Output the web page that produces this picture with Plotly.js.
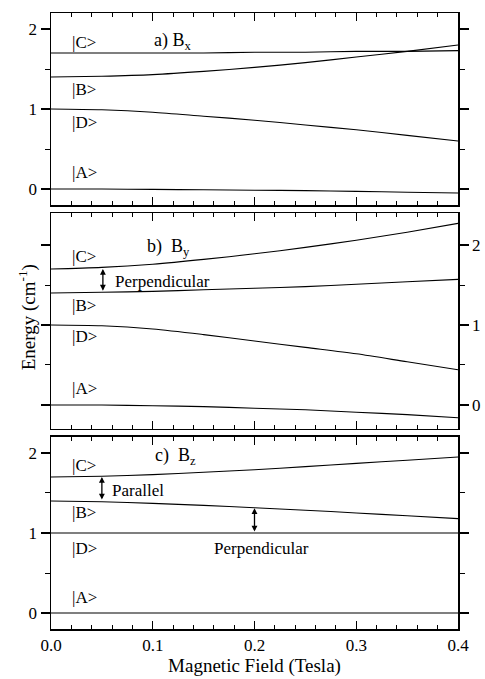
<!DOCTYPE html>
<html>
<head>
<meta charset="utf-8">
<script src="https://cdn.plot.ly/plotly-3.0.1.min.js"></script>
<style>html,body{margin:0;padding:0;background:#fff;}#chart{width:485px;height:679px;}</style>
</head>
<body>
<div id="chart"></div>
<script>
// Magnetic field (Tesla)
const field = [0, 0.05, 0.1, 0.15, 0.2, 0.25, 0.3, 0.35, 0.4];

// Panel a) Bx
const bxA = [0, 0, -0.005, -0.01, -0.015, -0.02, -0.03, -0.04, -0.05];
const bxB = [1.40, 1.41, 1.43, 1.47, 1.52, 1.58, 1.65, 1.72, 1.80];
const bxC = [1.70, 1.70, 1.70, 1.70, 1.71, 1.71, 1.72, 1.72, 1.73];
const bxD = [1.00, 0.99, 0.96, 0.91, 0.86, 0.80, 0.74, 0.67, 0.60];

// Panel b) By
const byA = [0, 0, -0.01, -0.02, -0.04, -0.06, -0.09, -0.12, -0.16];
const byB = [1.40, 1.41, 1.42, 1.44, 1.46, 1.48, 1.51, 1.54, 1.57];
const byC = [1.70, 1.72, 1.76, 1.82, 1.89, 1.97, 2.06, 2.16, 2.27];
const byD = [1.00, 0.99, 0.95, 0.88, 0.80, 0.72, 0.64, 0.54, 0.44];

// Panel c) Bz
const bzA = [0, 0, 0, 0, 0, 0, 0, 0, 0];
const bzB = [1.40, 1.39, 1.37, 1.345, 1.315, 1.285, 1.25, 1.215, 1.18];
const bzC = [1.70, 1.71, 1.73, 1.76, 1.79, 1.83, 1.87, 1.91, 1.95];
const bzD = [1.00, 1.00, 1.00, 1.00, 1.00, 1.00, 1.00, 1.00, 1.00];

const stateLabels = ['|C>', '|B>', '|D>', '|A>'];
const panelTitles = ['a) B<sub>x</sub>', 'b)  B<sub>y</sub>', 'c)  B<sub>z</sub>'];
const xTickVals = [0, 0.1, 0.2, 0.3, 0.4];
const xTickText = ['0.0', '0.1', '0.2', '0.3', '0.4'];

const FONT = 'Liberation Serif';
const lineStyle = {color: '#000', width: 1.1, shape: 'spline', smoothing: 0.8};

const panels = [
  {xa: 'x', ya: 'y', series: [bxA, bxB, bxC, bxD]},
  {xa: 'x2', ya: 'y2', series: [byA, byB, byC, byD]},
  {xa: 'x3', ya: 'y3', series: [bzA, bzB, bzC, bzD]}
];

const traces = [];
panels.forEach(p => {
  p.series.forEach(s => {
    traces.push({x: field, y: s, xaxis: p.xa, yaxis: p.ya, type: 'scatter', mode: 'lines',
      line: lineStyle, showlegend: false, hoverinfo: 'skip'});
  });
});

function xAxis(anchor, showLabels) {
  return {
    anchor: anchor, range: [0, 0.4], showgrid: false, zeroline: false,
    showline: true, linecolor: '#000', linewidth: 1.5, mirror: 'allticks',
    ticks: 'inside', ticklen: 8, tickwidth: 1.2, tickcolor: '#000',
    tickvals: xTickVals, ticktext: xTickText, showticklabels: showLabels,
    minor: {ticks: 'inside', dtick: 0.02, tick0: 0, ticklen: 4, tickwidth: 1, tickcolor: '#000'},
    tickfont: {family: FONT, size: 17, color: '#000'}
  };
}
function yAxis(anchor, domain, range, side) {
  return {
    anchor: anchor, domain: domain, range: range, side: side,
    showgrid: false, zeroline: false,
    showline: true, linecolor: '#000', linewidth: 1.5, mirror: 'allticks',
    ticks: 'outside', ticklen: 9, tickwidth: 1.2, tickcolor: '#000',
    tickmode: 'linear', tick0: 0, dtick: 1,
    minor: {ticks: 'outside', dtick: 0.5, tick0: 0, ticklen: 5, tickwidth: 1, tickcolor: '#000'},
    tickfont: {family: FONT, size: 17, color: '#000'}
  };
}

const layout = {
  width: 485, height: 679,
  margin: {l: 51, r: 27, t: 13, b: 50},
  paper_bgcolor: '#fff', plot_bgcolor: '#fff',
  showlegend: false,
  font: {family: FONT, color: '#000', size: 17},
  xaxis: xAxis('y', false),
  xaxis2: xAxis('y2', false),
  xaxis3: Object.assign(xAxis('y3', true), {
    title: {text: 'Magnetic Field (Tesla)', font: {family: FONT, size: 19, color: '#000'}, standoff: 4}
  }),
  yaxis: yAxis('x', [0.6883, 1], [-0.2, 2.2], 'left'),
  yaxis2: yAxis('x2', [0.3247, 0.6753], [-0.3, 2.4], 'right'),
  yaxis3: yAxis('x3', [0, 0.3117], [-0.2, 2.2], 'left'),
  annotations: []
};

const ann = layout.annotations;
function txt(xr, yr, x, y, text, opts) {
  ann.push(Object.assign({xref: xr, yref: yr, x: x, y: y, text: text, showarrow: false,
    xanchor: 'left', yanchor: 'middle', font: {family: FONT, size: 17, color: '#000'}}, opts || {}));
}
function dbl(xr, yr, x, y0, y1) {
  ann.push({xref: xr, yref: yr, axref: xr, ayref: yr, x: x, y: y1, ax: x, ay: y0, text: '',
    showarrow: true, arrowside: 'end+start', arrowhead: 2, arrowsize: 0.9, arrowwidth: 1.3, arrowcolor: '#000',
    standoff: 0, startstandoff: 0});
}

// state labels
const labelX = 0.019;
const labelY = [[1.83, 1.24, 0.83, 0.21], [1.86, 1.24, 0.86, 0.21], [1.84, 1.25, 0.81, 0.20]];
panels.forEach((p, i) => {
  stateLabels.forEach((s, j) => txt(p.xa, p.ya, labelX, labelY[i][j], s));
});
// panel titles
txt('x', 'y', 0.099, 1.84, panelTitles[0], {font: {family: FONT, size: 18, color: '#000'}});
txt('x2', 'y2', 0.092, 1.97, panelTitles[1], {font: {family: FONT, size: 18, color: '#000'}});
txt('x3', 'y3', 0.1, 1.96, panelTitles[2], {font: {family: FONT, size: 18, color: '#000'}});

// arrows and transition labels
dbl('x2', 'y2', 0.051, 1.41, 1.70);
txt('x2', 'y2', 0.061, 1.55, 'Perpendicular', {font: {family: FONT, size: 17, color: '#000'}});
dbl('x3', 'y3', 0.05, 1.40, 1.70);
txt('x3', 'y3', 0.058, 1.53, 'Parallel', {font: {family: FONT, size: 17, color: '#000'}});
dbl('x3', 'y3', 0.2, 1.0, 1.31);
txt('x3', 'y3', 0.207, 0.81, 'Perpendicular', {xanchor: 'center', font: {family: FONT, size: 17, color: '#000'}});

// y axis title
ann.push({xref: 'paper', yref: 'paper', x: -0.059, y: 0.506, text: 'Energy (cm<sup>-1</sup>)',
  textangle: -90, showarrow: false, xanchor: 'center', yanchor: 'middle',
  font: {family: FONT, size: 19, color: '#000'}});

Plotly.newPlot('chart', traces, layout, {displayModeBar: false, staticPlot: true});
</script>
</body>
</html>
